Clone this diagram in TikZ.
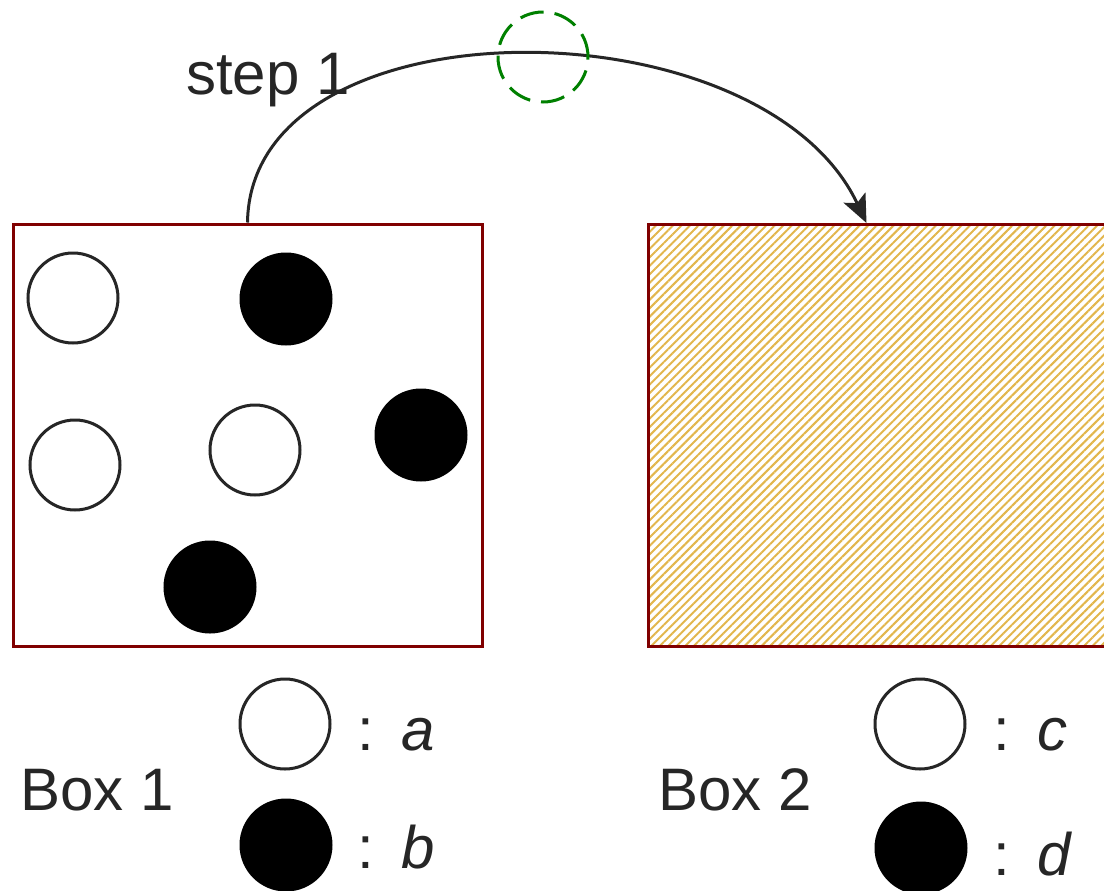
\documentclass[tikz,border=0pt]{standalone}
\usepackage{fontspec}
\setmainfont{Liberation Sans}
\usetikzlibrary{positioning,arrows.meta,patterns.meta}
\definecolor{boxred}{RGB}{128,0,0}
\definecolor{hatchgold}{RGB}{226,182,76}
\definecolor{ink}{RGB}{38,38,38}
\definecolor{ringgreen}{RGB}{0,128,0}

\begin{document}
\begin{tikzpicture}[x=0.5pt,y=-0.5pt,
    boxframe/.style={rectangle, draw=boxred, line width=1.5pt, minimum width=234.5pt, minimum height=211pt, inner sep=0pt},
    whiteball/.style={circle, draw=ink, fill=white, line width=1.5pt, minimum size=45pt, inner sep=0pt},
    blackball/.style={circle, draw=black, fill=black, line width=1.5pt, minimum size=45pt, inner sep=0pt},
    dashring/.style={circle, draw=ringgreen, line width=1.5pt, dash pattern=on 12pt off 5.5pt, minimum size=45pt, inner sep=0pt},
    bigtext/.style={text=ink, font=\fontsize{30}{36}\selectfont, inner sep=0pt},]
    \useasboundingbox (0,0) rectangle (1104,890);
    %Boxes
    \node[boxframe] (box1) at (247.5,435) {};
    \node[boxframe, pattern={Lines[angle=45,distance=3pt,line width=1pt]}, pattern color=hatchgold] (box2) at (882.5,435) {};

    %Balls in box 1
    \node[whiteball] (w1) at (73,298) {};
    \node[blackball] (b1) at (286,299) {};
    \node[whiteball] (w2) at (75,465) {};
    \node[whiteball] (w3) at (255,450) {};
    \node[blackball] (b2) at (421,435) {};
    \node[blackball] (b3) at (210,587) {};

    %Legends
    \node[whiteball] (lega) at (285,724) {};
    \node[blackball] (legb) at (286,845) {};
    \node[whiteball] (legc) at (920,724) {};
    \node[blackball] (legd) at (921,848) {};
    \node[bigtext, anchor=base west] (labela) at (357,750) {:\hspace{0.45em}\textit{a}};
    \node[bigtext, anchor=base west] (labelb) at (357,868) {:\hspace{0.45em}\textit{b}};
    \node[bigtext, anchor=base west] (labelc) at (993,750) {:\hspace{0.45em}\textit{c}};
    \node[bigtext, anchor=base west] (labeld) at (993,875) {:\hspace{0.45em}\textit{d}};

    %Texts
    \node[bigtext] (name1) at (97,790) {Box 1};
    \node[bigtext] (name2) at (735,790) {Box 2};
    \node[bigtext] (steplabel) at (268,80) {step 1};

    %Lines
    \coordinate (target) at ([xshift=-8pt]box2.north);
    \draw[-{Stealth[length=14pt,width=12pt,inset=3pt]}, draw=ink, line width=1.5pt]
        (box1.north) .. controls +(3,-224) and +(-106,-224) .. (target);
    \node[dashring] (ring) at (543,57) {};
  \end{tikzpicture}
\end{document}
